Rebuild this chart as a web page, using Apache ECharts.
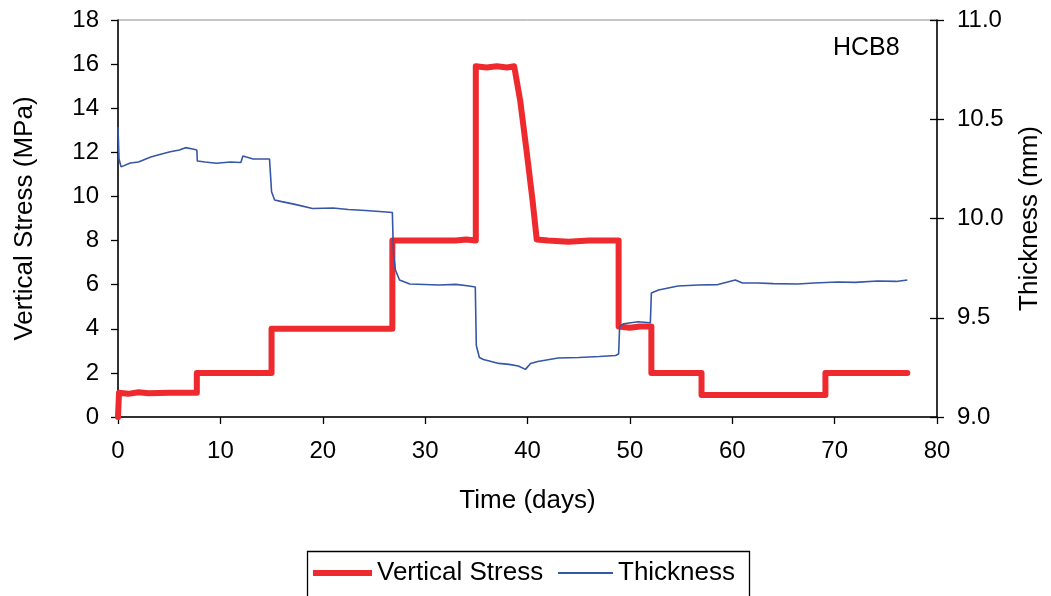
<!DOCTYPE html>
<html>
<head>
<meta charset="utf-8">
<script src="https://cdn.jsdelivr.net/npm/echarts@6/dist/echarts.min.js"></script>
<style>
html,body{margin:0;padding:0;background:#fff;}
#chart{width:1051px;height:596px;}
</style>
</head>
<body>
<div id="chart"></div>
<script>
// ---- data ----
const stressDays = [0, 0.1, 1, 2, 3, 5, 6.5, 7.7, 7.7, 15.0, 15.0, 26.8, 26.8, 30, 33, 34, 34.95, 34.95, 36, 37, 38, 38.7, 39.3, 39.9, 40.5, 40.9, 42, 44, 46, 48.9, 48.9, 50, 51, 52.1, 52.1, 57.0, 57.0, 69.1, 69.1, 77.1];
const stressValues = [0, 1.1, 1.05, 1.12, 1.08, 1.1, 1.1, 1.1, 2.0, 2.0, 4.0, 4.0, 8.0, 8.0, 8.0, 8.05, 8.0, 15.9, 15.85, 15.9, 15.85, 15.9, 14.3, 12.1, 9.8, 8.05, 8.0, 7.95, 8.0, 8.0, 4.1, 4.05, 4.1, 4.1, 2.0, 2.0, 1.0, 1.0, 2.0, 2.0];

const thickDays = [0, 0.1, 0.3, 1.2, 2.0, 3.2, 3.9, 5.1, 6.0, 6.6, 7.3, 7.7, 7.75, 8.5, 9.6, 11.0, 12.0, 12.2, 13.2, 14.8, 14.9, 15.0, 15.3, 16.0, 17.4, 19.0, 21.0, 22.5, 24.2, 26.2, 26.8, 26.9, 27.1, 27.5, 28.5, 31.4, 33.0, 34.3, 34.9, 35.0, 35.3, 35.7, 37.2, 38.2, 39.1, 39.8, 40.3, 41.0, 43.0, 45.0, 47.0, 48.6, 48.9, 49.0, 49.4, 50.8, 52.0, 52.1, 52.8, 54.7, 56.7, 58.6, 60.3, 61.0, 62.5, 64.0, 66.4, 68.0, 70.3, 72.0, 74.2, 76.0, 77.1];
const thickValues = [10.46, 10.3, 10.26, 10.28, 10.285, 10.31, 10.32, 10.336, 10.345, 10.357, 10.35, 10.345, 10.29, 10.285, 10.278, 10.285, 10.282, 10.315, 10.3, 10.3, 10.305, 10.135, 10.093, 10.085, 10.07, 10.05, 10.053, 10.045, 10.04, 10.033, 10.03, 9.83, 9.74, 9.69, 9.67, 9.665, 9.668, 9.66, 9.655, 9.36, 9.3, 9.29, 9.27, 9.265, 9.257, 9.24, 9.27, 9.28, 9.297, 9.3, 9.305, 9.31, 9.317, 9.455, 9.47, 9.48, 9.475, 9.625, 9.64, 9.66, 9.665, 9.667, 9.69, 9.675, 9.675, 9.672, 9.67, 9.675, 9.68, 9.678, 9.685, 9.683, 9.69];

const xTicks = {min: 0, max: 80, interval: 10};
const stressTicks = {min: 0, max: 18, interval: 2};
const thickTicks = {min: 9, max: 11, interval: 0.5};

const chartLabel = 'HCB8';
const stressName = 'Vertical Stress';
const thickName = 'Thickness';

// ---- chart ----
const FONT = '"Liberation Sans", Arial, sans-serif';
const RED = '#ee2a2e';
const BLUE = '#3656a6';

const chart = echarts.init(document.getElementById('chart'), null, {renderer: 'canvas'});
const axisLineStyle = {color: '#000', width: 1.5};
const tickStyle = {color: '#000', width: 1.3};
const labelStyle = {fontFamily: FONT, fontSize: 24, color: '#000'};
const nameStyle = {fontFamily: FONT, fontSize: 26, color: '#000'};

chart.setOption({
  animation: false,
  backgroundColor: '#fff',
  title: {
    text: chartLabel, left: 828, top: 31,
    textStyle: {fontFamily: FONT, fontSize: 25, fontWeight: 'normal', color: '#000'}
  },
  grid: {left: 118, right: 105, top: 20, bottom: 179, show: true, borderColor: '#8c8c8c', borderWidth: 1},
  legend: [
    {data: [stressName], left: 313, top: 560, padding: 0, icon: 'rect', itemWidth: 59, itemHeight: 6, itemGap: 0,
     textStyle: {fontFamily: FONT, fontSize: 26, color: '#000'}},
    {data: [thickName], left: 558, top: 560, padding: 0, icon: 'rect', itemWidth: 55, itemHeight: 2, itemGap: 0,
     textStyle: {fontFamily: FONT, fontSize: 26, color: '#000'}}
  ],
  graphic: [{
    type: 'rect', left: 305, top: 549, shape: {width: 442, height: 46},
    style: {fill: 'none', stroke: '#000', lineWidth: 1.3}, silent: true
  }],
  xAxis: {
    type: 'value', min: xTicks.min, max: xTicks.max, interval: xTicks.interval,
    name: 'Time (days)', nameLocation: 'middle', nameGap: 71,
    nameTextStyle: nameStyle,
    axisLine: {lineStyle: axisLineStyle},
    axisTick: {inside: false, length: 7, lineStyle: tickStyle},
    axisLabel: Object.assign({margin: 22}, labelStyle),
    splitLine: {show: false}
  },
  yAxis: [
    {
      type: 'value', position: 'left', min: stressTicks.min, max: stressTicks.max, interval: stressTicks.interval,
      name: 'Vertical Stress (MPa)', nameLocation: 'middle', nameGap: 80, nameRotate: 90,
      nameTextStyle: nameStyle,
      axisLine: {show: true, lineStyle: axisLineStyle},
      axisTick: {show: true, inside: false, length: 7, lineStyle: tickStyle},
      axisLabel: Object.assign({margin: 19}, labelStyle),
      splitLine: {show: false}
    },
    {
      type: 'value', position: 'right', min: thickTicks.min, max: thickTicks.max, interval: thickTicks.interval,
      name: 'Thickness (mm)', nameLocation: 'middle', nameGap: 80, nameRotate: 90,
      nameTextStyle: nameStyle,
      axisLine: {show: true, lineStyle: axisLineStyle},
      axisTick: {show: true, inside: false, length: 7, lineStyle: tickStyle},
      axisLabel: Object.assign({margin: 20, formatter: v => v.toFixed(1)}, labelStyle),
      splitLine: {show: false}
    },
    {
      type: 'value', position: 'right', min: thickTicks.min, max: thickTicks.max, interval: thickTicks.interval,
      axisLine: {show: false},
      axisTick: {show: true, inside: true, length: 7, lineStyle: tickStyle},
      axisLabel: {show: false},
      splitLine: {show: false}
    }
  ],
  series: [
    {
      name: stressName, type: 'line', yAxisIndex: 0, showSymbol: false, symbol: 'none',
      data: stressDays.map((d, i) => [d, stressValues[i]]),
      lineStyle: {color: RED, width: 6, join: 'round', cap: 'round'},
      itemStyle: {color: RED}, z: 2
    },
    {
      name: thickName, type: 'line', yAxisIndex: 1, showSymbol: false, symbol: 'none',
      data: thickDays.map((d, i) => [d, thickValues[i]]),
      lineStyle: {color: BLUE, width: 1.6},
      itemStyle: {color: BLUE}, z: 3
    }
  ]
});
</script>
</body>
</html>
